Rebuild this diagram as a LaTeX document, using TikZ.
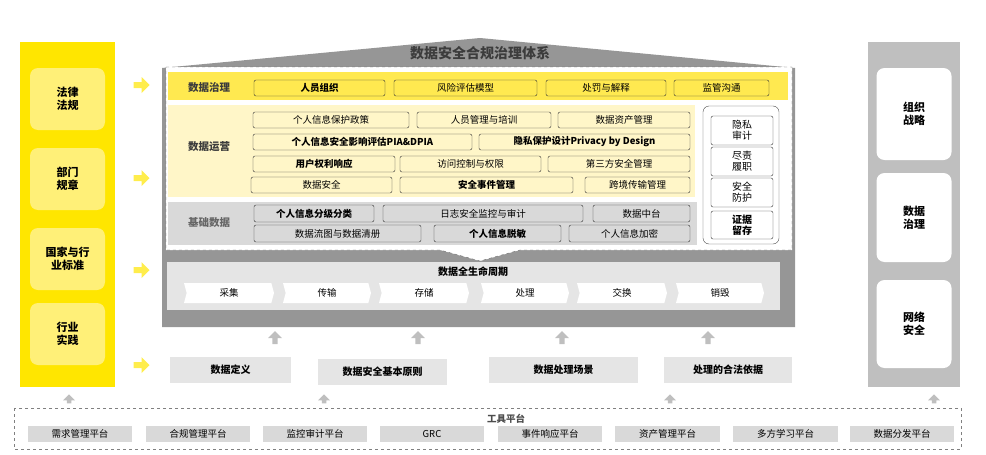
\documentclass[tikz,border=0pt]{standalone}
\usepackage{fontspec}
\setmainfont{Noto Sans CJK SC}
\usetikzlibrary{shapes.arrows,shapes.symbols}
\definecolor{ybright}{RGB}{255,230,0}
\definecolor{ylight}{RGB}{255,240,120}
\definecolor{yband}{RGB}{255,233,80}
\definecolor{ypale}{RGB}{255,246,200}
\definecolor{gband}{RGB}{217,217,217}
\definecolor{ghouse}{RGB}{150,150,150}
\definecolor{gcol}{RGB}{191,191,191}
\definecolor{gbox}{RGB}{229,229,229}
\definecolor{tdark}{RGB}{60,60,60}
\tikzset{
  item/.style={draw=black!80, rounded corners=2pt, inner sep=0pt, font=\fontsize{9.5}{10}\selectfont},
  bold/.style={font=\fontsize{9.5}{10}\selectfont\bfseries},
  bandlabel/.style={font=\fontsize{10.5}{11}\selectfont\bfseries, text=tdark},
  sidebox/.style={rounded corners=8pt, inner sep=0pt, align=center, font=\fontsize{11}{13}\selectfont\bfseries},
  yarrow/.style={single arrow, fill=ybright!70, minimum height=16pt, minimum width=16pt, single arrow head extend=2pt, inner sep=1pt},
  garrow/.style={single arrow, fill=gcol, shape border rotate=90, minimum height=13pt, minimum width=14pt, single arrow head extend=2pt, inner sep=1pt},
  stage/.style={signal, signal to=east, signal from=west, signal pointer angle=150, fill=white, inner sep=0pt, font=\fontsize{9.5}{10}\selectfont},
  tool/.style={fill=gband, inner sep=0pt, font=\fontsize{9.5}{10}\selectfont},
  basis/.style={draw=none, rounded corners=0pt, fill=gbox, inner sep=0pt, font=\fontsize{10}{11}\selectfont\bfseries},
}
\newcommand{\boxat}[6]{\node[item,#6, minimum width=#3pt-#2pt, minimum height=#5pt-#4pt] (#1) at ({(#2+#3)/2},{(#4+#5)/2})}
\begin{document}
\begin{tikzpicture}[x=1pt, y=-1pt]
\useasboundingbox (0,0) rectangle (986,455);

% left column
\fill[ybright] (20,42) rectangle (115,387);
\foreach \n/\ya/\yb/\t in {law/68/130/法律\\法规, dept/148/210/部门\\规章, std/228/290/国家与行\\业标准, prac/303/365/行业\\实践}
  \node[sidebox, fill=ylight, minimum width=75pt, minimum height=62pt] (\n) at (67.5,{(\ya+\yb)/2}) {\t};
\foreach \n/\y in {a1/85, a2/178, a3/270, a4/365}
  \node[yarrow] (\n) at (140,\y) {};

% right column
\fill[gcol] (868,42) rectangle (960,387);
\foreach \n/\ya/\yb/\t in {org/68/160/组织\\战略, gov/173/262/数据\\治理, net/280/368/网络\\安全}
  \node[sidebox, fill=white, minimum width=75pt, minimum height={\yb-\ya}] (\n) at (914,{(\ya+\yb)/2}) {\t};

% house
\fill[ghouse] (162,327) -- (162,68) -- (480,38) -- (795,68) -- (795,327) -- cycle;
\node[font=\fontsize{14}{15}\selectfont\bfseries, text=tdark] (title) at (480,53) {数据安全合规治理体系};
\draw[fill=white, dashed, draw=black!60] (166,67) -- (792,67) -- (792,250) -- (520,250) -- (480,261) -- (440,250) -- (166,250) -- cycle;

% bands
\fill[yband] (168,72) rectangle (788,100);
\fill[ypale] (168,105) rectangle (695,197);
\fill[gband] (168,202) rectangle (697,245);
\node[bandlabel] (l1) at (209,88) {数据治理};
\node[bandlabel] (l2) at (209,147) {数据运营};
\node[bandlabel, text=black!60] (l3) at (209,223) {基础数据};

% governance row
\boxat{g1}{254}{385}{80}{96}{fill=yband, bold}{人员组织};
\boxat{g2}{394}{537}{80}{96}{fill=yband}{风险评估模型};
\boxat{g3}{546}{666}{80}{96}{fill=yband}{处罚与解释};
\boxat{g4}{674}{769}{80}{96}{fill=yband}{监管沟通};

% operations rows
\boxat{o1}{253}{409}{112}{128}{fill=ypale}{个人信息保护政策};
\boxat{o2}{417}{551}{112}{128}{fill=ypale}{人员管理与培训};
\boxat{o3}{558}{690}{112}{128}{fill=ypale}{数据资产管理};
\boxat{o4}{253}{472}{134}{150}{fill=ypale, bold}{个人信息安全影响评估PIA\&DPIA};
\boxat{o5}{479}{690}{134}{150}{fill=ypale, bold}{隐私保护设计Privacy by Design};
\boxat{o6}{253}{395}{156}{172}{fill=ypale, bold}{用户权利响应};
\boxat{o7}{400}{541}{156}{172}{fill=ypale}{访问控制与权限};
\boxat{o8}{548}{690}{156}{172}{fill=ypale}{第三方安全管理};
\boxat{o9}{251}{392}{177}{193}{fill=ypale}{数据安全};
\boxat{o10}{400}{573}{177}{193}{fill=ypale, bold}{安全事件管理};
\boxat{o11}{585}{690}{177}{193}{fill=ypale}{跨境传输管理};

% base rows
\boxat{b1}{254}{374}{205}{222}{fill=gband, bold}{个人信息分级分类};
\boxat{b2}{383}{583}{205}{222}{fill=gband}{日志安全监控与审计};
\boxat{b3}{593}{690}{205}{222}{fill=gband}{数据中台};
\boxat{b4}{254}{421}{225}{242}{fill=gband}{数据流图与数据清册};
\boxat{b5}{434}{561}{225}{242}{fill=gband, bold}{个人信息脱敏};
\boxat{b6}{569}{690}{225}{242}{fill=gband}{个人信息加密};

% side pillar
\draw[rounded corners=6pt, draw=black!70] (703,106) rectangle (779,244);
\boxat{s1}{711}{773}{116}{145}{fill=white, align=center, font=\fontsize{10}{11}\selectfont}{隐私\\审计};
\boxat{s2}{711}{773}{147}{176}{fill=white, align=center, font=\fontsize{10}{11}\selectfont}{尽责\\履职};
\boxat{s3}{711}{773}{178}{207}{fill=white, align=center, font=\fontsize{10}{11}\selectfont}{安全\\防护};
\boxat{s4}{711}{773}{211}{239}{fill=white, align=center, font=\fontsize{10}{11}\selectfont\bfseries}{证据\\留存};

% lifecycle
\fill[gbox] (167,262) rectangle (780,310);
\node[font=\fontsize{10}{11}\selectfont\bfseries] (life) at (473,272) {数据全生命周期};
\foreach \n/\xa/\xb/\t in {c1/184/274/采集, c2/283/371/传输, c3/379/469/存储, c4/481/569/处理, c5/577/667/交换, c6/676/764/销毁}
  \node[stage, minimum width={\xb-\xa}, minimum height=20pt] (\n) at ({(\xa+\xb)/2},293) {\t};

% foundations
\foreach \n/\x in {u1/275, u2/418, u3/562, u4/708}
  \node[garrow] (\n) at (\x,339) {};
\boxat{f1}{170}{291}{357}{383}{basis}{数据定义};
\boxat{f2}{318}{447}{359}{385}{basis}{数据安全基本原则};
\boxat{f3}{489}{638}{357}{383}{basis}{数据处理场景};
\boxat{f4}{664}{792}{357}{383}{basis}{处理的合法依据};

% tool platform
\foreach \n/\x in {v1/69, v2/324, v3/670, v4/934}
  \node[garrow, minimum height=9pt, minimum width=12pt] (\n) at (\x,400) {};
\draw[dashed, draw=black!50] (14,408) rectangle (961,449);
\node[font=\fontsize{9.5}{10}\selectfont\bfseries, text=black!70] (tools) at (506,419) {工具平台};
\foreach \n/\xa/\xb/\t in {t1/28/132/需求管理平台, t2/146/250/合规管理平台, t3/263/367/监控审计平台, t4/380/484/GRC, t5/498/602/事件响应平台, t6/615/720/资产管理平台, t7/733/838/多方学习平台, t8/850/954/数据分发平台}
  \node[tool, minimum width={\xb-\xa}, minimum height=16pt] (\n) at ({(\xa+\xb)/2},434) {\t};
\end{tikzpicture}
\end{document}
